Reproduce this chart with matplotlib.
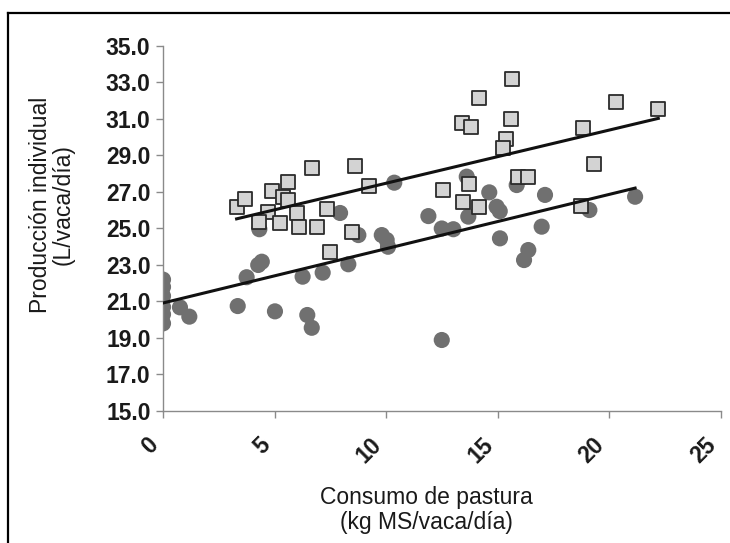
import numpy as np
import matplotlib
matplotlib.use('Agg')
import matplotlib.pyplot as plt
from matplotlib.lines import Line2D

# --- Datos ---
# Círculos (grupo inferior)
circ_x = [0, 0, 0, 0, 0, 0, 0.76, 1.18, 3.35, 3.75, 4.27, 4.43, 4.32, 5.02,
          6.26, 6.47, 6.67, 7.16, 7.94, 8.31, 8.76, 9.81, 10.03, 10.09, 10.37,
          11.90, 12.50, 12.50, 13.02, 13.62, 13.69, 14.63, 14.96, 15.10, 15.11,
          15.86, 16.19, 16.38, 16.98, 17.13, 19.12, 21.17]
circ_y = [22.2, 21.8, 21.3, 20.7, 20.3, 19.8, 20.68, 20.17, 20.75, 22.33, 23.0,
          23.18, 24.96, 20.46, 22.36, 20.26, 19.56, 22.58, 25.85, 23.04, 24.64,
          24.64, 24.37, 24.0, 27.51, 25.68, 25.0, 18.89, 24.96, 27.84, 25.65,
          26.98, 26.19, 25.95, 24.46, 27.38, 23.27, 23.82, 25.1, 26.84, 26.01,
          26.74]

# Cuadrados (grupo superior)
sq_x = [3.30, 3.68, 4.87, 5.62, 5.37, 5.62, 6.67, 4.69, 5.99, 4.32, 5.25, 6.11,
        6.89, 7.37, 7.50, 8.61, 9.24, 8.46, 12.55, 13.72, 13.47, 14.17, 13.39,
        13.81, 14.17, 15.66, 15.59, 15.38, 15.23, 15.93, 16.38, 18.82, 19.34,
        18.73, 20.31, 22.21]
sq_y = [26.16, 26.6, 27.07, 27.56, 26.74, 26.56, 28.3, 25.92, 25.87, 25.37,
        25.28, 25.1, 25.1, 26.05, 23.73, 28.42, 27.33, 24.8, 27.12, 27.46,
        26.47, 26.16, 30.76, 30.58, 32.13, 33.19, 30.98, 29.89, 29.39, 27.8,
        27.8, 30.49, 28.52, 26.25, 31.92, 31.55]

y_ticks = np.arange(15, 35.1, 2)
x_ticks = [0, 5, 10, 15, 20, 25]

fig = plt.figure(figsize=(7.30, 5.43), dpi=100)
ax = fig.add_axes([0.2233, 0.2431, 0.7637, 0.6722])

ax.scatter(circ_x, circ_y, s=135, color='#707070', edgecolors='none', zorder=2)
ax.scatter(sq_x, sq_y, s=95, marker='s', facecolor='#d3d3d3',
           edgecolors='#2b2b2b', linewidths=1.3, zorder=3)

# Líneas de tendencia (regresión lineal de cada grupo)
for xs, ys in [(circ_x, circ_y), (sq_x, sq_y)]:
    xs = np.asarray(xs); ys = np.asarray(ys)
    k, b = np.polyfit(xs, ys, 1)
    xx = np.array([xs.min(), xs.max()])
    ax.plot(xx, k * xx + b, color='#111111', lw=2.2, zorder=4)

ax.set_xlim(0, 25)
ax.set_ylim(15, 35)
ax.set_yticks(y_ticks)
ax.set_yticklabels([f"{v:.1f}" for v in y_ticks])
ax.set_xticks(x_ticks)
ax.set_xticklabels([str(v) for v in x_ticks], rotation=45, ha='right')

for side in ['top', 'right']:
    ax.spines[side].set_visible(False)
for side in ['left', 'bottom']:
    ax.spines[side].set_color('#8a8a8a')
    ax.spines[side].set_linewidth(1.0)

ax.tick_params(axis='both', colors='#8a8a8a', length=5, width=1.0, direction='out')
ax.tick_params(axis='y', labelcolor='#1a1a1a', labelsize=16.5, pad=4)
ax.tick_params(axis='x', labelcolor='#1a1a1a', labelsize=16.5, pad=11)
for lab in ax.get_xticklabels() + ax.get_yticklabels():
    lab.set_fontfamily('Liberation Sans')
    lab.set_fontweight('bold')

ax.set_ylabel("Producción individual\n(L/vaca/día)", fontsize=16.5,
              family='Liberation Sans', color='#1a1a1a', linespacing=1.0)
ax.yaxis.set_label_coords(-0.158, 0.565)
ax.set_xlabel("Consumo de pastura\n(kg MS/vaca/día)", fontsize=16.5,
              family='Liberation Sans', color='#1a1a1a', linespacing=1.12)
ax.xaxis.set_label_coords(0.472, -0.205)

# Marco exterior (solo bordes izquierdo y superior visibles)
x0, y0 = 8 / 730, 1 - 13 / 543
fig.add_artist(Line2D([x0, x0], [0, y0], transform=fig.transFigure,
                      color='black', lw=1.6))
fig.add_artist(Line2D([x0, 1], [y0, y0], transform=fig.transFigure,
                      color='black', lw=1.6))

fig.savefig('out.png', dpi=100)
